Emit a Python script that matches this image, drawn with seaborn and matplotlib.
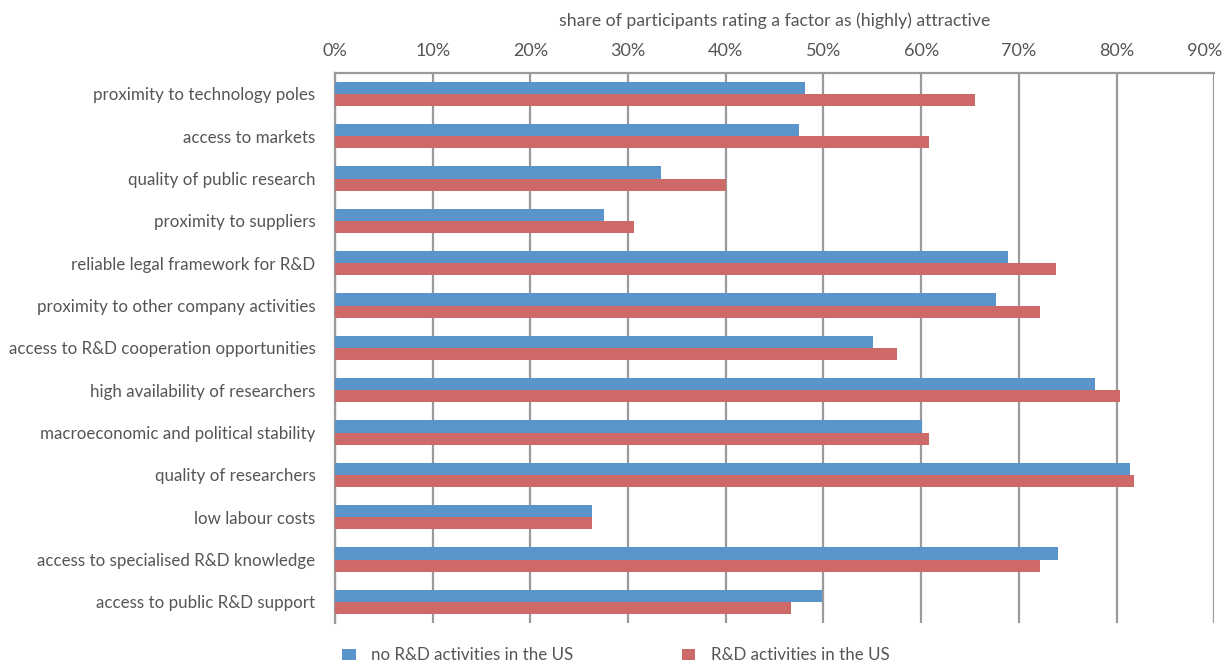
import matplotlib
matplotlib.use('Agg')
import seaborn as sns
import matplotlib.pyplot as plt
import matplotlib.ticker as ticker
import matplotlib.transforms as mtransforms
import pandas as pd
import numpy as np

# chart data
factors = ["proximity to technology poles", "access to markets", "quality of public research",
           "proximity to suppliers", "reliable legal framework for R&D",
           "proximity to other company activities", "access to R&D cooperation opportunities",
           "high availability of researchers", "macroeconomic and political stability",
           "quality of researchers", "low labour costs", "access to specialised R&D knowledge",
           "access to public R&D support"]
noUS = [48.1, 47.5, 33.4, 27.5, 68.9, 67.7, 55.1, 77.8, 60.1, 81.4, 26.3, 74.0, 49.9]
withUS = [65.5, 60.8, 40.0, 30.6, 73.8, 72.2, 57.5, 80.4, 60.8, 81.8, 26.3, 72.2, 46.7]
seriesNames = ["no R&D activities in the US", "R&D activities in the US"]
xTicks = [0, 10, 20, 30, 40, 50, 60, 70, 80, 90]

textColour = "#555555"
gridColour = "#9a9a9a"
palette = {seriesNames[0]: "#5b93cb", seriesNames[1]: "#cd6967"}

dataFrame = pd.DataFrame({
	"factor": factors * 2,
	"value": noUS + withUS,
	"series": [seriesNames[0]] * len(factors) + [seriesNames[1]] * len(factors),
})

sns.set_theme(style="white")
plt.rcParams['font.family'] = ['Lato', 'DejaVu Sans']

fig = plt.figure(figsize=(12.27, 6.64), dpi=100)
ax = fig.add_axes([0.2730, 0.0617, 0.7166, 0.8288])

sns.barplot(ax=ax, data=dataFrame, y="factor", x="value", hue="series", order=factors,
	hue_order=seriesNames, palette=palette, orient="h", width=0.575, saturation=1,
	edgecolor="none", zorder=3)

ax.set_xlim(0, 90)
ax.set_ylim(len(factors) - 0.5, -0.5)
ax.xaxis.tick_top()
ax.xaxis.set_label_position("top")
ax.set_xticks(xTicks)
ax.xaxis.set_major_formatter(ticker.FuncFormatter(lambda v, p: "{:.0f}%".format(v)))
ax.set_xlabel("share of participants rating a factor as (highly) attractive", fontsize=12.7,
	color=textColour, labelpad=12)
ax.set_ylabel("")
ax.tick_params(axis="x", which="major", length=0, labelsize=13, labelcolor=textColour, pad=10)
ax.tick_params(axis="y", which="major", length=0, labelsize=12.2, labelcolor=textColour, pad=14)
ax.set_yticks(np.arange(-0.5, len(factors)), minor=True)
ax.tick_params(axis="y", which="minor", length=6, width=1.5, color=gridColour, direction="out")

# the last percent label sits a little to the left so it stays inside the picture
lastTick = ax.xaxis.get_major_ticks()[-1]
lastTick.label2.set_transform(lastTick.label2.get_transform() +
	mtransforms.ScaledTranslation(-7 / 72, 0, fig.dpi_scale_trans))

ax.grid(axis="x", color=gridColour, linewidth=1.6, zorder=0)
ax.set_axisbelow(True)
for side in ["right", "bottom"]:
	ax.spines[side].set_visible(False)
for side in ["left", "top"]:
	ax.spines[side].set_color(gridColour)
	ax.spines[side].set_linewidth(1.6)

handles, labels = ax.get_legend_handles_labels()
ax.get_legend().remove()
fig.legend(handles, labels, loc="center left", bbox_to_anchor=(0.2666, 0.013),
	bbox_transform=fig.transFigure, ncol=2, frameon=False, fontsize=12.2, labelcolor=textColour,
	handlelength=0.8, handleheight=0.6, handletextpad=0.9, columnspacing=6.4)

plt.savefig("out.png", dpi=100)
plt.close("all")
